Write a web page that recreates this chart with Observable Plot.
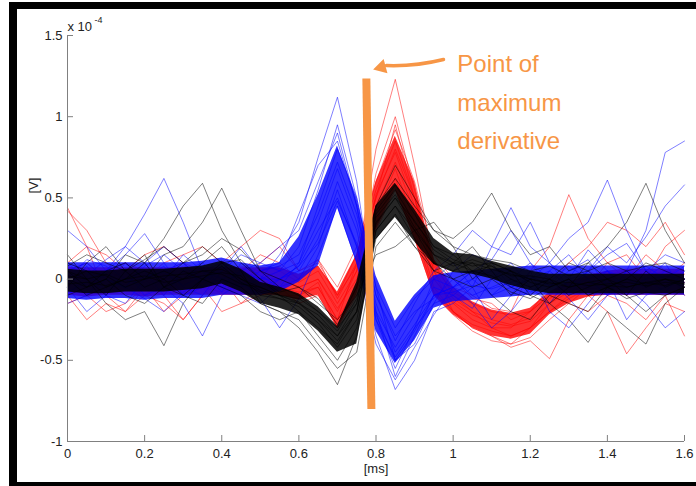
<!DOCTYPE html>
<html><head><meta charset="utf-8">
<script src="https://cdn.jsdelivr.net/npm/d3@7"></script>
<script src="https://cdn.jsdelivr.net/npm/@observablehq/plot@0.6"></script>
<style>
body{margin:0;background:#fff;}
#wrap{position:relative;width:696px;height:486px;overflow:hidden;background:#fff;}
#chart{position:absolute;left:0;top:0;}
.bar{position:absolute;background:#000;}
</style></head><body>
<div id="wrap">
  <div id="chart"></div>
  <div class="bar" style="left:9px;top:2px;width:687px;height:7px"></div>
  <div class="bar" style="left:9px;top:2px;width:8px;height:484px"></div>
  <div class="bar" style="left:9px;top:482px;width:687px;height:4px"></div>
</div>
<script>
// sample times [ms]
const time = [0,0.05,0.1,0.15,0.2,0.25,0.3,0.35,0.4,0.45,0.5,
  0.55,0.6,0.65,0.7,0.75,0.8,0.85,0.9,0.95,1.0,1.05,
  1.1,1.15,1.2,1.25,1.3,1.35,1.4,1.45,1.5,1.55,1.6];

// dense core of each cluster (x 1e-4 V)
const blackLo = [-0.08,-0.09,-0.09,-0.08,-0.08,-0.08,-0.07,-0.06,-0.03,-0.08,-0.15,
  -0.18,-0.22,-0.32,-0.45,-0.4,0.24,0.38,0.23,0.09,0.04,0.03,
  0,-0.04,-0.07,-0.09,-0.09,-0.09,-0.09,-0.09,-0.09,-0.09,-0.09];
const blackHi = [0.06,0.05,0.05,0.06,0.06,0.06,0.07,0.08,0.11,0.06,-0.02,
  -0.05,-0.09,-0.17,-0.29,-0.02,0.45,0.59,0.43,0.25,0.16,0.15,
  0.11,0.08,0.05,0.03,0.03,0.03,0.03,0.03,0.03,0.03,0.03];
const blueLo = [-0.12,-0.13,-0.12,-0.12,-0.13,-0.12,-0.12,-0.12,-0.1,-0.1,-0.1,
  -0.08,-0.02,0.08,0.44,0.1,-0.32,-0.52,-0.38,-0.18,-0.14,-0.13,
  -0.12,-0.11,-0.1,-0.1,-0.1,-0.1,-0.1,-0.1,-0.1,-0.1,-0.1];
const blueHi = [0.1,0.1,0.1,0.1,0.1,0.1,0.1,0.11,0.13,0.1,0.08,
  0.1,0.26,0.52,0.82,0.5,0.02,-0.26,-0.1,0.02,0.04,0.05,
  0.06,0.07,0.08,0.08,0.08,0.08,0.08,0.08,0.08,0.08,0.08];
const redLo = [-0.1,-0.11,-0.1,-0.1,-0.11,-0.1,-0.1,-0.1,-0.1,-0.1,-0.1,
  -0.1,-0.13,-0.1,-0.3,-0.1,0.3,0.55,0.25,-0.1,-0.22,-0.3,
  -0.35,-0.37,-0.34,-0.22,-0.15,-0.11,-0.1,-0.1,-0.1,-0.1,-0.1];
const redHi = [0.07,0.07,0.07,0.07,0.07,0.07,0.07,0.07,0.07,0.07,0.07,
  0.07,0.03,0.08,-0.08,0.15,0.6,0.88,0.6,0.12,-0.05,-0.14,
  -0.19,-0.21,-0.18,-0.08,-0.02,0.02,0.05,0.06,0.06,0.06,0.06];

// individual spikes
const blueTraces = [
  [0.05,0.1,0,-0.05,0.08,0.15,0.05,-0.02,0.1,0.05,0, 0.15,0.35,0.75,1.12,0.6,-0.2,-0.6,-0.35,-0.1,-0.05,0.05, -0.1,0,0.1,-0.05,0.05,0.12,-0.05,0,0.08,0,-0.05],
  [-0.1,0.02,0.12,0.2,0.1,-0.05,0,0.08,-0.05,0.05,0.1, 0.05,0.2,0.55,0.95,0.5,-0.05,-0.5,-0.4,-0.15,0.05,0.15, 0.1,-0.05,-0.1,0.05,0.15,0,-0.1,0.05,0.3,0.78,0.85],
  [0.3,0.2,0.05,0.15,0.28,0.1,-0.05,-0.1,0.05,0.2,0.05, 0.1,0.4,0.7,0.85,0.45,-0.25,-0.55,-0.3,0,0.1,-0.05, 0.2,0.15,0.35,0.1,-0.05,0.05,0.2,0.1,0.26,0.45,0.58],
  [-0.15,-0.1,0,-0.05,-0.12,-0.2,-0.08,0,-0.05,-0.1,-0.15, -0.05,0,0.2,0.55,0.2,-0.35,-0.68,-0.5,-0.2,-0.15,-0.05, -0.25,-0.1,0.05,-0.2,-0.3,-0.15,0,-0.25,-0.1,-0.05,0],
  [0.05,-0.05,0.05,0.1,0,0.05,0.1,-0.05,0,0.05,-0.05, 0,0.05,0.25,0.6,0.3,-0.2,-0.42,-0.22,-0.05,-0.1,0, 0.05,-0.05,0,0.1,0,-0.05,0.05,0,-0.05,0.05,0],
  [-0.05,0.08,-0.08,0,0.05,-0.1,0.05,0.1,0,-0.05,0.05, 0.08,0.15,0.4,0.72,0.4,-0.1,-0.35,-0.2,-0.12,0,-0.1, -0.05,0,-0.08,-0.02,0.08,0,-0.1,0.05,0,-0.08,0.05],
  [0.1,0.05,-0.1,-0.15,0,0.08,-0.1,-0.05,0.08,-0.02,-0.1, 0,0.08,0.3,0.5,0.2,-0.25,-0.48,-0.3,-0.15,-0.1,-0.18, 0,0.1,-0.05,-0.15,0,0.18,0.05,-0.1,0,0.1,-0.1],
  [0,0.12,0.08,0,-0.05,0,0.15,0.05,-0.08,0.1,0.02, -0.05,0.1,0.45,0.8,0.5,-0.05,-0.3,-0.12,0,-0.05,0.05, 0.12,0.3,0.1,0,-0.1,0.05,0.15,0.22,0.05,0,0.08],
  [0,-0.1,0.05,0.2,0.4,0.62,0.35,0.05,0,-0.05,0, 0.05,0.1,0.35,0.68,0.35,-0.15,-0.45,-0.28,-0.1,-0.05,0, -0.1,-0.05,0,0.05,-0.05,0,0.05,-0.05,0,0.02,0],
  [-0.08,-0.02,0.03,-0.06,0.02,0.04,-0.04,0.02,-0.02,0.03,0, 0,0.08,0.22,0.48,0.22,-0.22,-0.5,-0.32,-0.1,-0.08,-0.04, -0.06,-0.02,0.02,-0.04,0,0.03,-0.02,0,-0.03,0.02,-0.02],
  [-0.05,-0.2,-0.1,0.05,-0.1,-0.05,-0.15,-0.35,-0.1,-0.02,-0.12, -0.3,-0.12,0.15,0.45,0.1,-0.4,-0.62,-0.42,-0.22,-0.05,-0.15, -0.3,-0.2,-0.05,0,-0.12,-0.25,-0.1,-0.05,-0.15,-0.3,-0.2],
  [0.1,0,0.05,-0.05,0.1,0.2,0.1,0,0.05,0.15,0.1, 0.2,0.3,0.6,0.9,0.45,-0.1,-0.38,-0.15,0.05,0.15,0.3, 0.2,0.44,0.2,0.1,0.25,0.35,0.61,0.3,0.05,0.15,0.1]
];
const redTraces = [
  [0,0.05,-0.05,0.1,0,-0.1,0.05,0,-0.05,0.05,0, -0.05,-0.1,-0.05,-0.25,0.1,0.8,1.23,0.7,0.1,-0.1,-0.2, -0.3,-0.35,-0.3,-0.2,-0.1,0,0.05,-0.05,0,0.05,0],
  [0.42,0.3,0.1,0,-0.05,0.05,0.1,0,-0.1,0,0.05, 0,-0.05,0,-0.2,0.05,0.65,1,0.55,0.05,-0.2,-0.3, -0.35,-0.4,-0.3,-0.15,-0.05,0.05,0,-0.1,-0.05,0,0.1],
  [-0.1,-0.25,-0.15,-0.2,-0.05,-0.1,-0.25,-0.1,0,-0.15,-0.1, -0.05,-0.15,-0.1,-0.3,-0.05,0.4,0.68,0.35,-0.05,-0.2,-0.3, -0.35,-0.42,-0.38,-0.49,-0.25,-0.1,-0.2,-0.46,-0.3,-0.15,-0.2],
  [0.05,0.1,0,0.05,0.15,0.2,0.1,0.05,0.1,0.2,0.3, 0.25,0.05,0.1,-0.1,0.15,0.55,0.85,0.5,0.12,-0.05,-0.1, -0.18,-0.2,0.05,0.2,0.52,0.25,0.1,0.15,0,0.2,0.3],
  [0,-0.05,0.05,0,-0.02,0.03,-0.03,0,0.02,-0.02,0, 0,-0.05,0,-0.18,0,0.45,0.72,0.42,0,-0.14,-0.22, -0.27,-0.29,-0.26,-0.15,-0.08,-0.04,-0.02,0,-0.03,0,-0.02],
  [-0.05,0.02,-0.08,-0.03,-0.1,0,0.02,-0.05,-0.08,0,-0.03, -0.05,-0.08,-0.05,-0.25,-0.05,0.35,0.62,0.3,-0.08,-0.2,-0.28, -0.32,-0.35,-0.3,-0.2,-0.12,-0.06,-0.05,-0.02,-0.05,-0.03,-0.05],
  [0.08,0.03,0.05,0.1,0.05,0.02,0.08,0.05,0.05,0.08,0.05, 0.08,0,0.08,-0.1,0.08,0.5,0.8,0.5,0.08,-0.08,-0.15, -0.2,-0.22,-0.2,-0.1,-0.02,0,0.03,0.05,0.02,0.05,0.03],
  [-0.15,-0.1,-0.2,-0.15,-0.05,-0.2,-0.1,-0.05,-0.2,-0.15,-0.05, -0.1,-0.1,-0.02,-0.3,-0.1,0.3,0.55,0.25,-0.1,-0.22,-0.32, -0.38,-0.4,-0.36,-0.25,-0.15,-0.2,-0.1,-0.15,-0.25,-0.1,-0.35],
  [0.1,0.2,0.15,0.05,0,0.1,0.15,0.2,0.1,0.05,0.15, 0.1,0,0.12,-0.05,0.2,0.6,0.92,0.6,0.15,0,-0.12, -0.15,-0.25,-0.2,-0.05,0.1,0.2,0.35,0.3,0.2,0.35,0.15],
  [0,0.05,0,-0.05,0,0.05,0,0.05,0,-0.05,0, 0.05,-0.02,0.05,-0.15,0.05,0.52,0.78,0.45,0.05,-0.12,-0.2, -0.25,-0.28,-0.24,-0.12,-0.05,-0.02,0,-0.02,0,0.02,0],
  [0.44,0.2,-0.1,-0.2,-0.1,-0.15,-0.25,-0.1,0.05,-0.05,0.1, 0.2,0.05,0.12,-0.12,0.1,0.5,0.95,0.5,0,-0.15,-0.25, -0.3,-0.3,-0.2,-0.1,-0.15,-0.05,0.1,0,0.15,0.05,-0.1]
];
const blackTraces = [
  [0.05,0,-0.1,0.05,0.15,-0.05,0,0.1,0.2,0.05,-0.15, -0.2,-0.3,-0.45,-0.65,-0.35,0.3,0.45,0.25,0.05,0.1,0.2, 0.05,-0.1,0,-0.15,-0.05,0.1,0,-0.1,0.05,-0.05,0],
  [0.1,0.05,-0.05,0,0.1,0.25,0.45,0.59,0.3,0.1,0, -0.1,-0.2,-0.3,-0.4,-0.2,0.4,0.55,0.35,0.2,0.15,0.05, 0.08,0,-0.05,0,-0.1,-0.05,0,0.05,-0.05,0,-0.05],
  [0,-0.05,0.05,0.1,0,0.15,0.2,0.35,0.56,0.3,0.05, -0.05,-0.1,-0.2,-0.3,-0.15,0.35,0.5,0.3,0.1,0.05,0.1, 0,0.05,-0.02,-0.05,0,-0.1,-0.05,0,-0.03,0,-0.02],
  [0.15,0,-0.15,-0.25,-0.2,-0.41,-0.15,0,-0.05,-0.1,-0.2, -0.25,-0.2,-0.35,-0.5,-0.3,0.25,0.4,0.2,0.1,0,0.05, -0.1,-0.2,-0.25,-0.1,-0.15,-0.2,-0.05,-0.1,-0.2,-0.1,-0.05],
  [-0.05,0.1,0.2,0.05,-0.05,0,0.1,0.2,0.1,0,-0.05, -0.1,-0.15,-0.25,-0.35,-0.15,0.45,0.62,0.45,0.3,0.25,0.35, 0.53,0.3,0.15,0.2,0.05,0.1,0.2,0.35,0.59,0.3,0.1],
  [0,-0.1,-0.05,0,0.05,0,-0.1,0,0.08,-0.02,-0.08, -0.12,-0.15,-0.22,-0.35,-0.2,0.38,0.52,0.32,0.15,0.1,0.05, 0.02,-0.05,-0.1,-0.15,-0.25,-0.39,-0.2,-0.3,-0.4,-0.15,-0.05],
  [0.02,0,0.03,-0.02,0,0.02,0.03,0.05,0.06,0,-0.07, -0.1,-0.14,-0.25,-0.38,-0.2,0.34,0.5,0.36,0.18,0.1,0.1, 0.06,0.03,0,-0.03,-0.02,-0.04,-0.03,-0.02,-0.04,-0.02,-0.03],
  [-0.03,-0.02,-0.04,0,0.02,-0.02,0,0.02,0.04,0.02,-0.1, -0.12,-0.17,-0.27,-0.42,-0.25,0.3,0.45,0.3,0.15,0.08,0.12, 0.08,0.02,0.02,0,-0.05,-0.02,-0.04,-0.05,-0.02,-0.04,0],
  [0.05,-0.05,0,0.15,0.1,-0.05,0.05,0,0.1,0.12,0, -0.08,-0.05,-0.15,-0.25,-0.1,0.15,0.2,0.3,0.35,0.2,0, 0.1,0.05,-0.1,0,0.1,0.05,-0.05,0,0.1,0.05,0],
  [0,0.05,0.02,-0.05,0,0.05,0,0.05,0.03,-0.03,-0.05, -0.1,-0.12,-0.2,-0.32,-0.12,0.42,0.58,0.4,0.2,0.12,0.08, 0.1,0.05,0,-0.02,-0.05,-0.02,0,-0.05,-0.02,0,-0.03],
  [-0.1,-0.05,0,-0.1,-0.15,-0.05,-0.1,-0.15,0,-0.05,-0.15, -0.2,-0.25,-0.4,-0.55,-0.45,0.2,0.35,0.2,0.05,0,-0.05, 0,-0.08,-0.12,-0.05,0,-0.1,-0.05,-0.12,-0.08,-0.1,-0.05],
  [0.08,0.15,0.1,0.05,0.12,0.2,0.1,0.15,0.25,0.18,0.05, 0,-0.05,-0.12,-0.28,-0.05,0.45,0.7,0.5,0.3,0.2,0.15, 0.12,0.1,0.05,0.08,0.02,0.05,0.1,0.05,0.08,0.1,0.05]
];

const xTicks = [0,0.2,0.4,0.6,0.8,1,1.2,1.4,1.6];
const yTicks = [-1,-0.5,0,0.5,1,1.5];
const xLabel = ["[ms]"];
const yLabel = ["[V]"];
const scaleLabel = ["x 10"];
const scaleExponent = ["-4"];

// annotation
const markerTime = [0.775, 0.788];   // top, bottom of the marker line
const markerVolt = [1.235, -0.80];
const arrowTime = [0.975, 0.827];    // tail, base of head
const arrowVolt = [1.352, 1.315];
const headPos = [0.814, 1.305];      // centre of the arrow head
const noteLines = ["Point of", "maximum", "derivative"];
const notePos = [1.011, 1.44];
const orange = "#F79646";

function traceRows(traces, name) {
  const rows = [];
  traces.forEach((tr, k) => tr.forEach((v, i) => rows.push({t: time[i], v, id: name + k})));
  return rows;
}
function bandRows(lo, hi) { return time.map((t, i) => ({t, lo: lo[i], hi: hi[i]})); }

const font = "'Liberation Sans', Arial, sans-serif";
const chart = Plot.plot({
  width: 696, height: 486,
  marginLeft: 67, marginRight: 12, marginTop: 35, marginBottom: 45,
  style: {fontFamily: font, fontSize: "13px", background: "transparent", color: "#222", overflow: "visible"},
  x: {domain: [0, 1.6]},
  y: {domain: [-1, 1.5]},
  marks: [
    Plot.areaY(bandRows(redLo, redHi), {x: "t", y1: "lo", y2: "hi", fill: "#ff0000", fillOpacity: 0.8}),
    Plot.line(traceRows(redTraces, "r"), {x: "t", y: "v", z: "id", stroke: "#ff0000", strokeOpacity: 0.5, strokeWidth: 1}),
    Plot.areaY(bandRows(blueLo, blueHi), {x: "t", y1: "lo", y2: "hi", fill: "#0000ff", fillOpacity: 0.8}),
    Plot.line(traceRows(blueTraces, "b"), {x: "t", y: "v", z: "id", stroke: "#0000ff", strokeOpacity: 0.5, strokeWidth: 1}),
    Plot.areaY(bandRows(blackLo, blackHi), {x: "t", y1: "lo", y2: "hi", fill: "#000", fillOpacity: 0.85}),
    Plot.line(traceRows(blackTraces, "k"), {x: "t", y: "v", z: "id", stroke: "#000", strokeOpacity: 0.5, strokeWidth: 1}),
    Plot.ruleY([-1], {stroke: "#808080"}),
    Plot.ruleX([0], {stroke: "#808080"}),
    Plot.axisX(xTicks, {tickSize: -6, stroke: "#808080", tickFormat: () => "", label: null}),
    Plot.axisY(yTicks, {tickSize: -6, stroke: "#808080", tickFormat: () => "", label: null}),
    Plot.axisX(xTicks, {tickSize: 0, tickPadding: 7, tickFormat: d => String(d), label: null, fill: "#222", fontSize: 13}),
    Plot.axisY(yTicks, {tickSize: 0, tickPadding: 5, tickFormat: d => String(d), label: null, fill: "#222", fontSize: 13}),
    Plot.text(xLabel, {frameAnchor: "bottom", dy: 31, fill: "#222", fontSize: 13}),
    Plot.text(yLabel, {frameAnchor: "top-left", dx: -39, dy: 158, rotate: -90, fill: "#222", fontSize: 13}),
    Plot.text(scaleLabel, {frameAnchor: "top-left", textAnchor: "start", lineAnchor: "bottom", dy: -5, fontSize: 13, fill: "#222"}),
    Plot.text(scaleExponent, {frameAnchor: "top-left", textAnchor: "start", lineAnchor: "bottom", dx: 27, dy: -13, fontSize: 9, fill: "#222"}),
    Plot.link([0], {x1: () => markerTime[0], y1: () => markerVolt[0], x2: () => markerTime[1], y2: () => markerVolt[1], stroke: orange, strokeWidth: 8}),
    Plot.arrow([0], {x1: () => arrowTime[0], y1: () => arrowVolt[0], x2: () => arrowTime[1], y2: () => arrowVolt[1], bend: 8, stroke: orange, strokeWidth: 3.5, headLength: 0}),
    Plot.dot([0], {x: () => headPos[0], y: () => headPos[1], symbol: "triangle", r: 5.5, rotate: -105, fill: orange, stroke: "none"}),
    Plot.text([noteLines.join("\n")], {x: () => notePos[0], y: () => notePos[1], textAnchor: "start", lineAnchor: "top", lineHeight: 1.6, fontSize: 24, fill: orange})
  ]
});
document.getElementById("chart").appendChild(chart);
</script>
</body></html>
